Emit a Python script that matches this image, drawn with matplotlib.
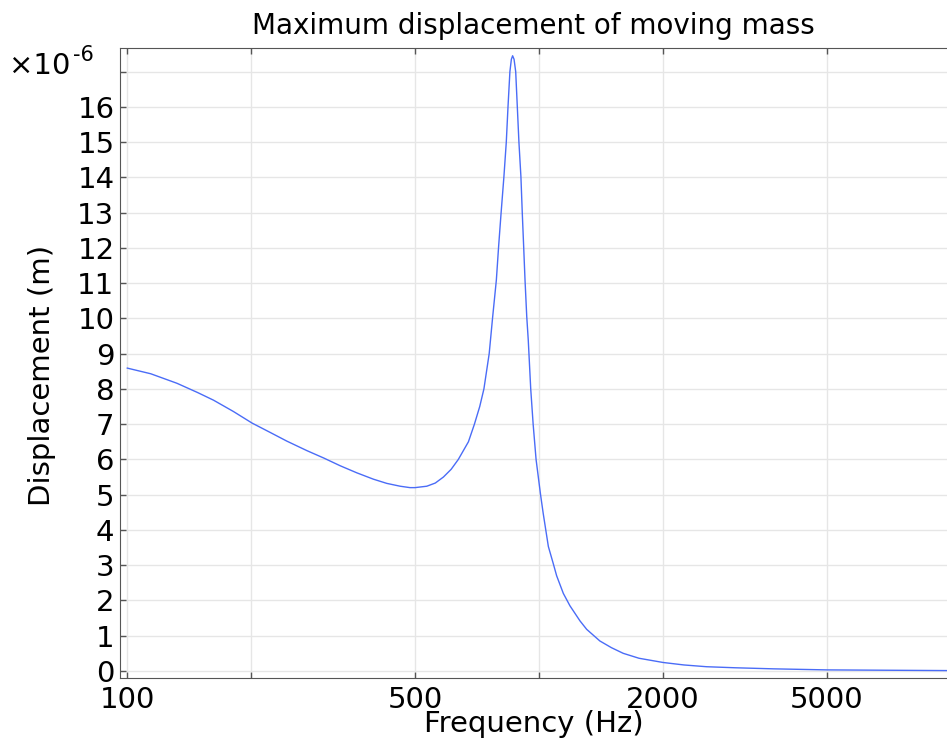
import matplotlib
matplotlib.use("Agg")
import matplotlib.pyplot as plt
from matplotlib.ticker import FixedLocator, FixedFormatter, NullLocator

# frequency (Hz) and displacement (x 1e-6 m)
freq = [100, 114, 132, 148, 162, 181, 201, 222, 244, 273, 300, 329, 361, 396,
        427, 460, 486, 500, 534, 560, 586, 612, 637, 674, 697, 718, 735, 757,
        772, 788, 798, 809, 822, 833, 841, 850, 857, 863, 870, 878, 886, 894,
        904, 911, 918, 925, 934, 942, 955, 968, 984, 1009, 1024, 1054, 1083,
        1104, 1146, 1189, 1258, 1306, 1406, 1500, 1602, 1750, 2003, 2250, 2552,
        3000, 3706, 5000, 7000, 10000]
disp = [8.59, 8.43, 8.16, 7.90, 7.68, 7.36, 7.03, 6.77, 6.52, 6.25, 6.04, 5.82,
        5.62, 5.44, 5.32, 5.24, 5.20, 5.20, 5.24, 5.33, 5.50, 5.72, 6.00, 6.50,
        7.00, 7.50, 8.00, 9.00, 10.05, 11.09, 12.04, 12.98, 14.02, 15.0, 16.0,
        17.0, 17.35, 17.45, 17.35, 17.0, 16.0, 15.0, 14.02, 12.98, 12.04, 11.09,
        10.05, 9.38, 8.0, 7.0, 6.0, 5.0, 4.47, 3.53, 3.05, 2.70, 2.20, 1.85,
        1.42, 1.18, 0.85, 0.66, 0.50, 0.36, 0.24, 0.17, 0.12, 0.09, 0.06, 0.03,
        0.02, 0.01]

xticks = [100, 200, 500, 1000, 2000, 5000]
xlabels = ['100', '', '500', '', '2000', '5000']
yticks = list(range(18))
ylabels = [str(v) for v in range(17)] + ['']

fig = plt.figure(figsize=(9.47, 7.42), dpi=100)
ax = fig.add_axes([120 / 947, 1 - 678 / 742, 1 - 120 / 947, (678 - 48) / 742])

ax.plot(freq, disp, color='#4a6cf7', lw=1.0)

ax.set_xscale('log')
ax.set_xlim(96, 9800)
ax.set_ylim(-0.2, 17.67)

ax.xaxis.set_major_locator(FixedLocator(xticks))
ax.xaxis.set_major_formatter(FixedFormatter(xlabels))
ax.xaxis.set_minor_locator(NullLocator())
ax.yaxis.set_major_locator(FixedLocator(yticks))
ax.yaxis.set_major_formatter(FixedFormatter(ylabels))

ax.grid(True, color='#e6e6e6', lw=1.0)
ax.set_axisbelow(True)
ax.tick_params(direction='in', length=4, width=1, color='#555555',
               labelsize=21, top=True, right=False, pad=4)
ax.tick_params(axis='x', pad=6)

for side in ['left', 'bottom', 'top']:
    ax.spines[side].set_color('#555555')
ax.spines['right'].set_visible(False)

ax.set_xlabel('Frequency (Hz)', fontsize=21, labelpad=-3)
ax.set_ylabel('Displacement (m)', fontsize=21)
ax.yaxis.set_label_coords(-0.077, 0.481)
ax.set_title('Maximum displacement of moving mass', fontsize=20, pad=10)

# offset label drawn by hand so the exponent keeps a plain hyphen
fig.text(9 / 947, 1 - 66 / 742, '\u00d710', fontsize=21, va='center', ha='left')
fig.text(73 / 947, 1 - 55 / 742, '-6', fontsize=15, va='center', ha='left')

fig.savefig('out.png', dpi=100)
